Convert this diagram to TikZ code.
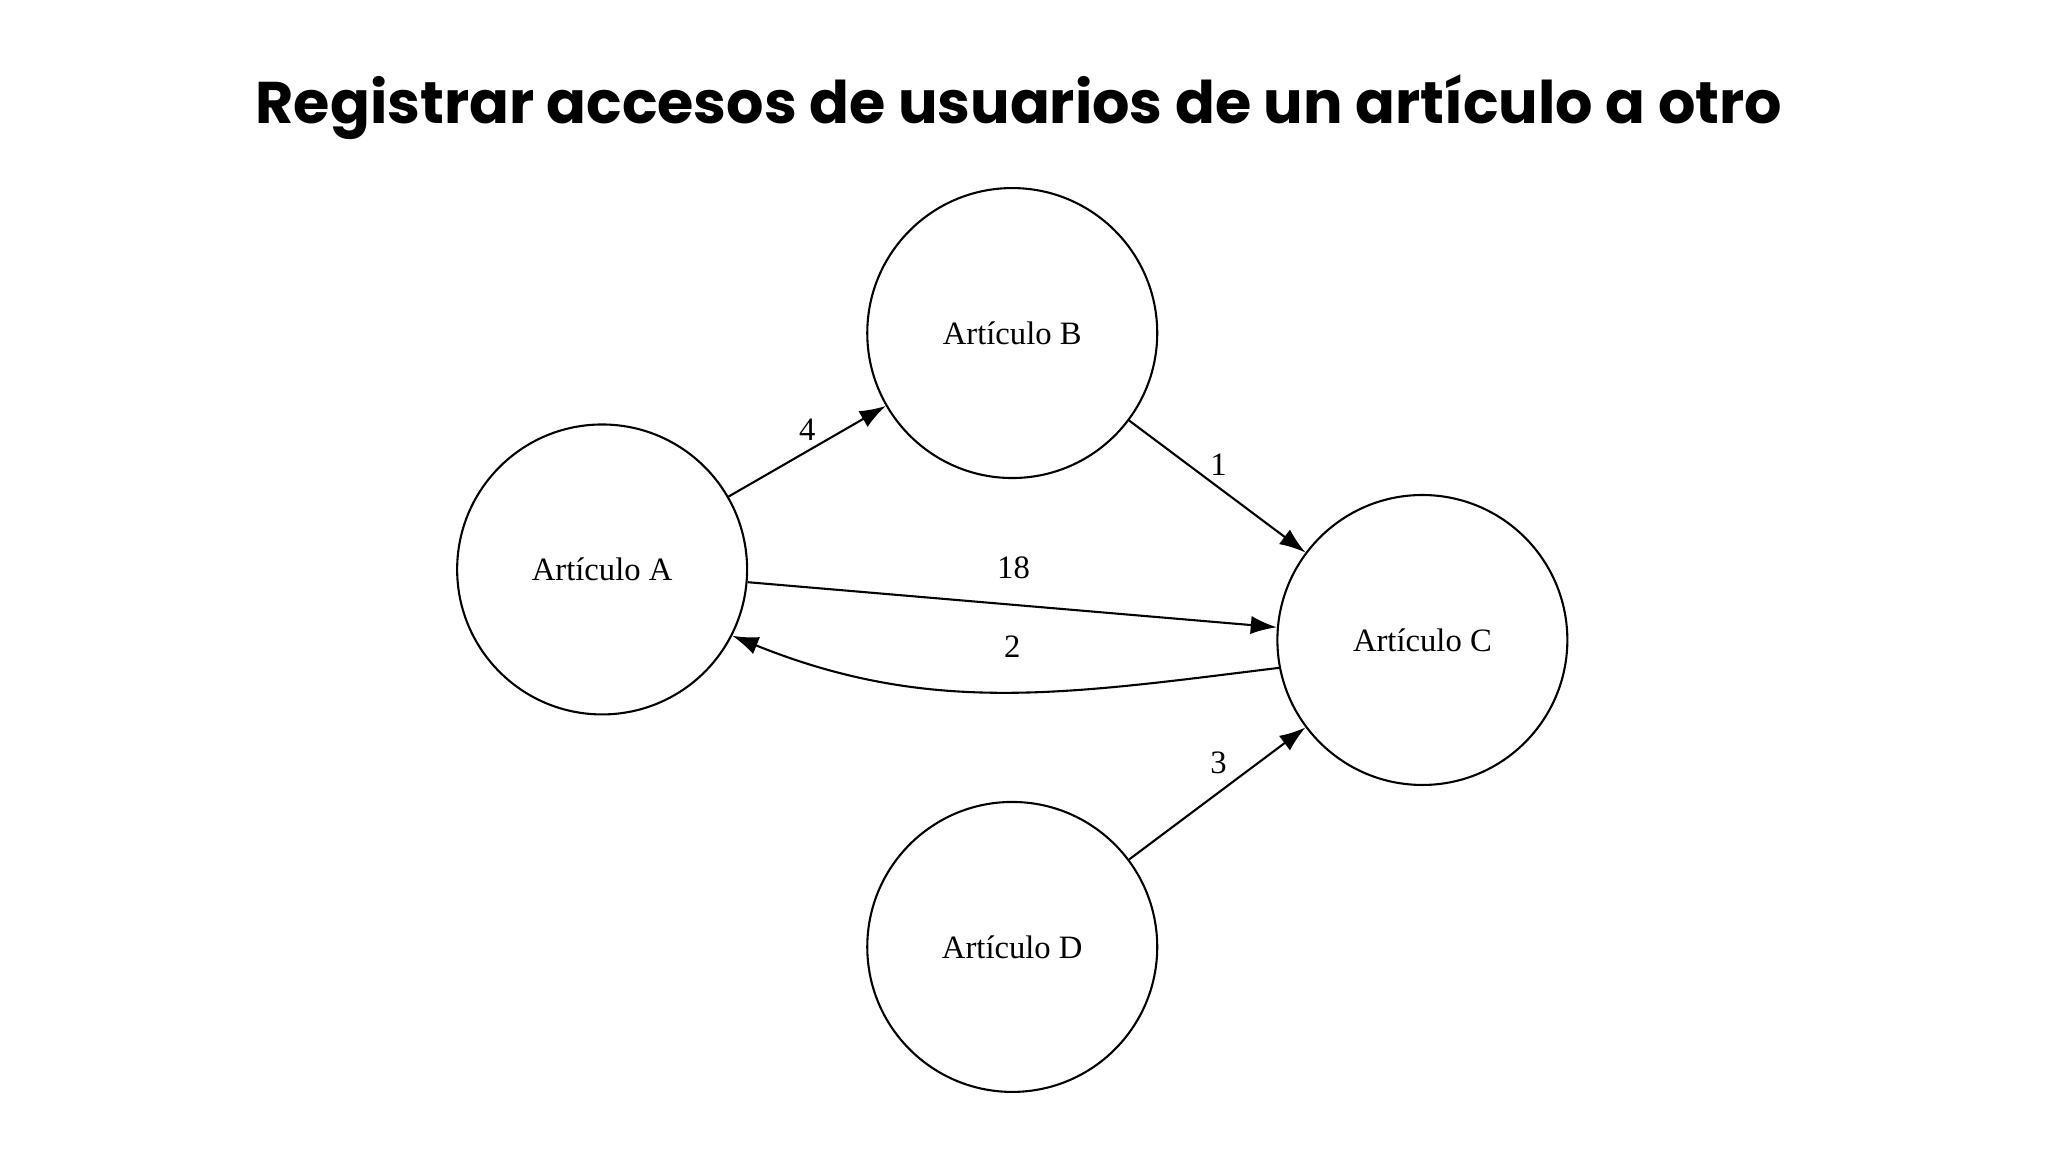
\documentclass[tikz,border=0pt]{standalone}
\usepackage{fontspec}
\setmainfont{Liberation Serif}
\newfontfamily\titlefont{Poppins}
\usetikzlibrary{arrows.meta}
\begin{document}
\begin{tikzpicture}[x=1pt,y=1pt,
  art/.style={circle,draw,line width=1.6pt,minimum size=222pt,inner sep=0pt,font=\fontsize{25}{30}\selectfont},
  edge/.style={line width=1.6pt,-{Latex[length=20pt,width=14pt]}},
  lbl/.style={font=\fontsize{25}{30}\selectfont}]
\useasboundingbox (0,0) rectangle (1568,882);
\node[font=\titlefont\bfseries\fontsize{45}{54}\selectfont] (title) at (780,800) {Registrar accesos de usuarios de un artículo a otro};
\node[art] (A) at (461,446) {Artículo A};
\node[art] (B) at (775,627) {Artículo B};
\node[art] (C) at (1089,392) {Artículo C};
\node[art] (D) at (775,157) {Artículo D};
\draw[edge] (A) -- (B);
\draw[edge] (B) -- (C);
\draw[edge] (A.-5) -- (C.175);
\draw[edge] (C.191) to[out=187,in=-22] (A.-27);
\draw[edge] (D) -- (C);
\node[lbl] (l4) at (618,553) {4};
\node[lbl] (l1) at (933,526) {1};
\node[lbl] (l18) at (776,447) {18};
\node[lbl] (l2) at (775,387) {2};
\node[lbl] (l3) at (933,298) {3};
\end{tikzpicture}
\end{document}
